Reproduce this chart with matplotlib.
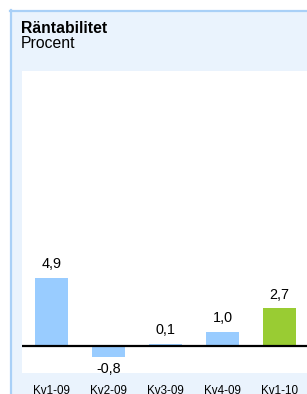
import matplotlib
matplotlib.use("Agg")
import matplotlib.pyplot as plt
from matplotlib.patches import Rectangle
from matplotlib.lines import Line2D

plt.rcParams['font.family'] = ['Liberation Sans', 'DejaVu Sans']

# Data
kvartal = ['Kv1-09', 'Kv2-09', 'Kv3-09', 'Kv4-09', 'Kv1-10']
rantabilitet = [4.9, -0.8, 0.1, 1.0, 2.7]
farger = ['#99CCFF', '#99CCFF', '#99CCFF', '#99CCFF', '#99CC33']

W, H = 307, 394
fig = plt.figure(figsize=(W / 100, H / 100), dpi=100)
fig.patch.set_facecolor('white')

# bakgrundspanel med kant upptill och till vänster
fig.patches.append(Rectangle((10 / W, 0), 1, 1 - 10 / H, transform=fig.transFigure,
                             facecolor='#EAF3FD', edgecolor='none', zorder=-5))
fig.lines.append(Line2D([10.5 / W, 10.5 / W], [0, 1 - 10 / H], transform=fig.transFigure,
                        color='#A9D0F7', lw=1.6, zorder=-4))
fig.lines.append(Line2D([10 / W, 1], [1 - 10.5 / H, 1 - 10.5 / H], transform=fig.transFigure,
                        color='#A9D0F7', lw=1.6, zorder=-4))

fig.text(21 / W, 1 - 33 / H, 'Räntabilitet', fontsize=11.3, fontweight='bold', va='baseline')
fig.text(21 / W, 1 - 48 / H, 'Procent', fontsize=11.3, va='baseline')

ax = fig.add_axes([22 / W, 1 - 373 / H, (W - 22) / W, 302 / H])
ax.set_facecolor('white')
x = range(len(kvartal))
bars = ax.bar(x, rantabilitet, width=0.58, color=farger, zorder=2)
ax.axhline(0, color='black', lw=1.6, zorder=3)

for b, v in zip(bars, rantabilitet):
    txt = f'{v:.1f}'.replace('.', ',')
    if v >= 0:
        ax.annotate(txt, (b.get_x() + b.get_width() / 2, v), xytext=(0, 5),
                    textcoords='offset points', ha='center', va='bottom', fontsize=10.4)
    else:
        ax.annotate(txt, (b.get_x() + b.get_width() / 2, v), xytext=(0, -4),
                    textcoords='offset points', ha='center', va='top', fontsize=10.4)

ax.set_xlim(-0.52, 4.48)
ax.set_ylim(-2, 20)
ax.set_xticks(list(x))
ax.set_xticklabels(kvartal, fontsize=8.4)
ax.tick_params(axis='x', length=0, pad=9)
ax.set_yticks([])
for s in ax.spines.values():
    s.set_visible(False)

fig.savefig('out.png', dpi=100)
